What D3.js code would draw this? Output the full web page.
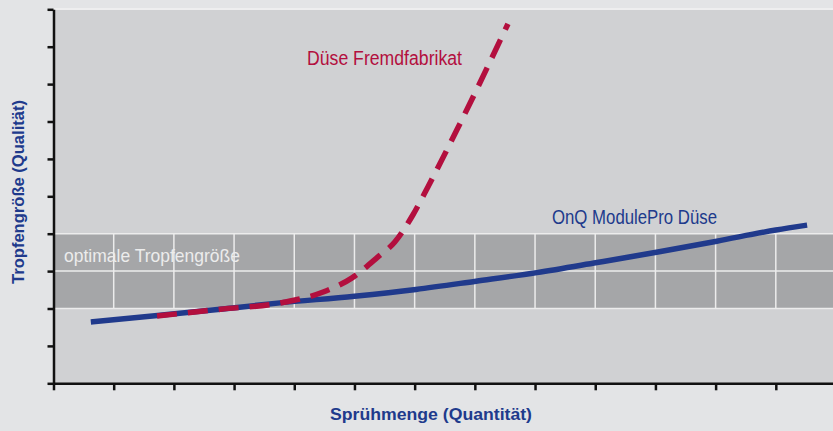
<!DOCTYPE html>
<html>
<head>
<meta charset="utf-8">
<script src="https://cdn.jsdelivr.net/npm/d3@7"></script>
<style>
  body { margin: 0; background: #e3e4e6; }
  svg { display: block; }
</style>
</head>
<body>
<svg id="chart" width="833" height="431"></svg>
<script>
// data (units = tick steps)
var xTickValues = [0, 1, 2, 3, 4, 5, 6, 7, 8, 9, 10, 11, 12];
var yTickValues = [0, 1, 2, 3, 4, 5, 6, 7, 8, 9, 10];
var bandRange = [2, 4];
var bandLines = [2, 3, 4];

var onqX = [0.62, 1.77, 2.77, 3.76, 5.0, 6.02, 7.02, 8.03, 9.03, 10.04, 11.02, 12.0, 12.52];
var onqY = [1.64, 1.82, 1.98, 2.15, 2.33, 2.51, 2.73, 2.96, 3.23, 3.51, 3.80, 4.10, 4.23];

var fremdX = [1.72, 2.77, 3.81, 4.48, 4.96, 5.39, 5.67, 5.97, 6.22, 6.70, 7.55];
var fremdY = [1.80, 1.98, 2.16, 2.44, 2.82, 3.38, 3.78, 4.50, 5.25, 6.77, 9.61];

var labels = ["Düse Fremdfabrikat", "OnQ ModulePro Düse", "optimale Tropfengröße"];
var xTitle = "Sprühmenge (Quantität)";
var yTitle = "Tropfengröße (Qualität)";

var svg = d3.select("#chart");
var W = 833;

var x = d3.scaleLinear().domain([0, 13]).range([53.5, 836]);
var y = d3.scaleLinear().domain([0, 10]).range([383.3, 9.3]);

var blue = "#203a8c", red = "#b30f3e";
var narrow = "'Liberation Sans Narrow', 'Arial Narrow', sans-serif";

// plot area
svg.append("rect")
    .attr("x", x(0)).attr("y", 8)
    .attr("width", W - x(0)).attr("height", y(0) - 8)
    .attr("fill", "#eeeeef");
svg.append("rect")
    .attr("x", x(0)).attr("y", 10)
    .attr("width", W - x(0)).attr("height", y(0) - 10)
    .attr("fill", "#d0d1d3");

// optimal band
svg.append("rect")
    .attr("x", x(0)).attr("y", y(bandRange[1]))
    .attr("width", W - x(0)).attr("height", y(bandRange[0]) - y(bandRange[1]))
    .attr("fill", "#a5a6a8");

svg.selectAll(".vgrid").data(xTickValues.slice(1)).enter()
    .append("line")
    .attr("x1", function (d) { return x(d); })
    .attr("x2", function (d) { return x(d); })
    .attr("y1", y(bandRange[1])).attr("y2", y(bandRange[0]))
    .attr("stroke", "#ececec").attr("stroke-width", 1.5);

svg.selectAll(".hgrid").data(bandLines).enter()
    .append("line")
    .attr("x1", x(0)).attr("x2", W)
    .attr("y1", function (d) { return y(d); })
    .attr("y2", function (d) { return y(d); })
    .attr("stroke", "#ececec").attr("stroke-width", 1.5);

svg.append("text")
    .attr("x", 64).attr("y", 262)
    .attr("font-family", narrow).attr("font-size", 19)
    .attr("fill", "#ececec")
    .attr("textLength", 176).attr("lengthAdjust", "spacingAndGlyphs")
    .text(labels[2]);

// curves
var line = d3.line()
    .x(function (d) { return x(d[0]); })
    .y(function (d) { return y(d[1]); })
    .curve(d3.curveMonotoneX);

svg.append("path")
    .datum(d3.zip(onqX, onqY))
    .attr("d", line)
    .attr("fill", "none")
    .attr("stroke", blue).attr("stroke-width", 5.5);

svg.append("path")
    .datum(d3.zip(fremdX, fremdY))
    .attr("d", line)
    .attr("fill", "none")
    .attr("stroke", red).attr("stroke-width", 5.5)
    .attr("stroke-dasharray", "20,11");

// axes
var yAxis = svg.append("g")
    .attr("transform", "translate(" + x(0) + ",0)")
    .call(d3.axisLeft(y).tickValues(yTickValues).tickSize(6).tickSizeOuter(0).tickFormat(""));
var xAxis = svg.append("g")
    .attr("transform", "translate(0," + y(0) + ")")
    .call(d3.axisBottom(x).tickValues(xTickValues).tickSize(7).tickSizeOuter(0).tickFormat(""));
[xAxis, yAxis].forEach(function (g) {
    g.selectAll("path, line").attr("stroke", "#111").attr("stroke-width", 2.5);
});

// series labels
svg.append("text")
    .attr("x", 307).attr("y", 65)
    .attr("font-family", narrow).attr("font-size", 20)
    .attr("fill", red)
    .attr("textLength", 155).attr("lengthAdjust", "spacingAndGlyphs")
    .text(labels[0]);

svg.append("text")
    .attr("x", 552).attr("y", 224)
    .attr("font-family", narrow).attr("font-size", 20)
    .attr("fill", blue)
    .attr("textLength", 165).attr("lengthAdjust", "spacingAndGlyphs")
    .text(labels[1]);

// axis titles
svg.append("text")
    .attr("x", 431).attr("y", 420)
    .attr("text-anchor", "middle")
    .attr("font-family", narrow).attr("font-size", 17).attr("font-weight", "bold")
    .attr("fill", blue)
    .attr("textLength", 202).attr("lengthAdjust", "spacingAndGlyphs")
    .text(xTitle);

svg.append("text")
    .attr("transform", "translate(24,192) rotate(-90)")
    .attr("text-anchor", "middle")
    .attr("font-family", narrow).attr("font-size", 17).attr("font-weight", "bold")
    .attr("fill", blue)
    .attr("textLength", 184).attr("lengthAdjust", "spacingAndGlyphs")
    .text(yTitle);
</script>
</body>
</html>
